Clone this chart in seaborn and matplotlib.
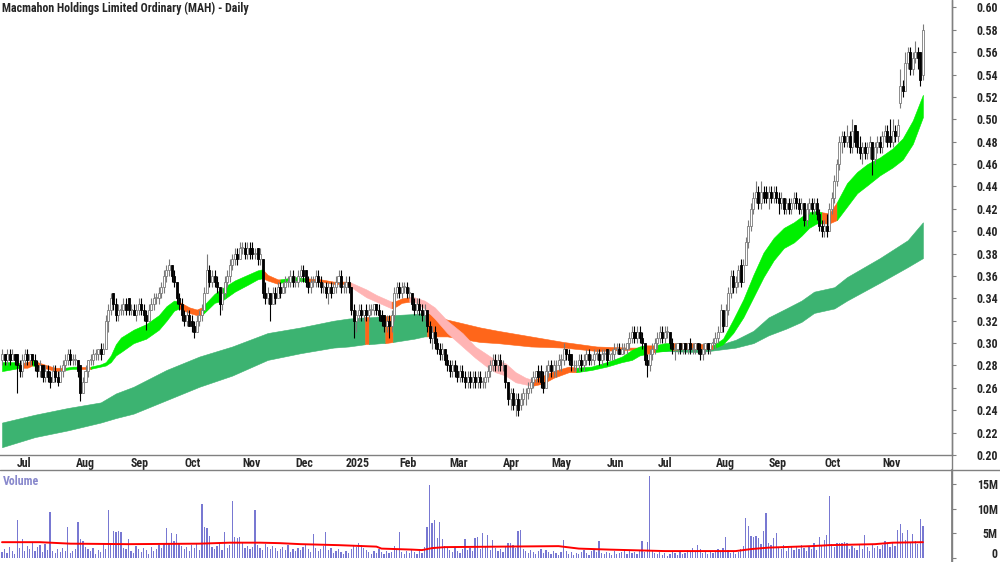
import numpy as np
import pandas as pd
import seaborn as sns
import matplotlib
matplotlib.use("Agg")
import matplotlib.pyplot as plt
from matplotlib.lines import Line2D
from matplotlib.transforms import ScaledTranslation

TITLE = "Macmahon Holdings Limited Ordinary (MAH) - Daily"

# first bar is Fri 21 Jun 2024, ASX trading days only
start_date = "2024-06-21"
asx_holidays = ["2024-12-25", "2024-12-26", "2025-01-01", "2025-01-27",
                "2025-04-18", "2025-04-21", "2025-04-25", "2025-06-09"]

# prices in tenths of a cent (285 -> $0.285), one line per month
opens = [
    285, 290, 285, 290, 285, 290,
    290, 280, 275, 285, 290, 285, 290, 285, 280, 275, 280, 270, 275, 270, 265, 275, 270, 265, 275, 280, 285, 290, 285,
    285, 285, 280, 255, 265, 275, 285, 285, 290, 290, 295, 290, 295, 320, 330, 345, 335, 325, 330, 330, 335, 340,
    330, 330, 325, 330, 335, 330, 325, 320, 330, 335, 340, 340, 345, 350, 360, 365, 370, 360, 355, 340, 335,
    325, 320, 325, 320, 315, 310, 320, 325, 330, 345, 365, 355, 360, 355, 350, 335, 345, 355, 360, 370, 375, 380, 375,
    385, 385, 380, 385, 385, 380, 385, 375, 375, 345, 340, 345, 335, 345, 340, 350, 345, 350, 355, 355, 360,
    355, 355, 360, 365, 365, 355, 350, 355, 355, 360, 355, 350, 350, 345, 350, 345, 350, 355, 360, 350,
    350, 355, 350, 330, 320, 325, 330, 325, 330, 325, 330, 330, 335, 330, 325, 325, 315, 320, 315, 325, 345,
    350, 345, 350, 350, 345, 345, 335, 330, 335, 330, 325, 330, 315, 305, 310, 300, 295, 290, 295, 285,
    280, 275, 280, 275, 270, 275, 270, 265, 270, 265, 270, 265, 270, 265, 265, 270, 275, 280, 285, 280, 285,
    280, 280, 265, 250, 255, 245, 250, 245, 250, 255, 255, 260, 265, 270, 275, 275, 265, 260, 275,
    280, 275, 280, 280, 285, 285, 295, 290, 290, 280, 280, 280, 285, 280, 285, 290, 285, 285, 290, 290, 285, 290,
    295, 285, 290, 290, 295, 295, 290, 295, 295, 300, 305, 310, 305, 310, 305, 300, 285, 280, 290, 295,
    300, 305, 310, 305, 310, 310, 300, 295, 295, 300, 295, 300, 295, 300, 295, 295, 300, 295, 290, 295, 300, 295, 300,
    300, 305, 310, 330, 315, 330, 345, 360, 350, 355, 370, 355, 370, 390, 405, 420, 430, 435, 425, 435, 435,
    430, 435, 430, 435, 430, 425, 430, 420, 425, 420, 425, 430, 425, 420, 425, 410, 420, 425, 420, 425, 415, 405,
    400, 405, 400, 420, 430, 445, 460, 480, 485, 480, 485, 475, 495, 490, 475, 470, 475, 470, 475, 480, 465, 475, 480,
    475, 485, 490, 485, 480, 490, 485, 515, 530, 525, 550, 560, 545, 555, 560, 560, 540,
]
highs = [
    295, 290, 295, 295, 295, 290,
    290, 285, 290, 295, 295, 290, 290, 290, 285, 285, 280, 280, 280, 275, 280, 280, 275, 280, 285, 290, 295, 295, 290,
    290, 285, 280, 270, 280, 285, 290, 295, 295, 295, 300, 300, 325, 335, 345, 345, 340, 335, 335, 340, 340, 340,
    335, 335, 335, 340, 340, 335, 330, 335, 340, 345, 345, 350, 355, 365, 370, 375, 370, 365, 355, 345, 340,
    330, 330, 330, 325, 320, 325, 330, 335, 350, 380, 370, 365, 365, 360, 350, 350, 360, 365, 375, 380, 385, 385, 390,
    390, 390, 390, 390, 390, 385, 385, 385, 375, 355, 350, 345, 350, 350, 355, 355, 355, 360, 360, 365, 365,
    360, 365, 370, 370, 365, 360, 360, 360, 365, 365, 360, 355, 355, 355, 355, 355, 360, 365, 365, 355,
    360, 360, 350, 335, 330, 335, 335, 330, 335, 335, 335, 335, 335, 335, 330, 325, 325, 325, 330, 350, 355,
    355, 355, 355, 355, 350, 345, 340, 340, 340, 335, 335, 330, 320, 315, 315, 305, 300, 300, 295, 290,
    285, 285, 285, 280, 280, 280, 275, 275, 275, 275, 275, 275, 275, 270, 275, 280, 285, 290, 290, 290, 290,
    285, 280, 265, 260, 260, 255, 255, 255, 260, 260, 265, 270, 275, 275, 280, 280, 275, 280, 285,
    285, 285, 285, 290, 290, 300, 295, 295, 290, 285, 285, 290, 290, 290, 295, 295, 290, 295, 295, 295, 295, 295,
    295, 295, 295, 300, 300, 300, 300, 300, 300, 310, 315, 315, 315, 315, 310, 300, 290, 295, 300, 305,
    310, 315, 315, 315, 315, 310, 305, 300, 300, 300, 300, 300, 300, 305, 300, 300, 300, 300, 300, 300, 300, 300, 305,
    310, 315, 335, 330, 335, 350, 365, 365, 360, 370, 375, 375, 395, 410, 425, 435, 445, 440, 445, 440, 440,
    440, 440, 440, 440, 435, 435, 430, 430, 430, 430, 435, 435, 430, 430, 425, 425, 430, 430, 430, 430, 420, 410,
    410, 415, 425, 435, 450, 465, 485, 490, 490, 495, 490, 500, 495, 490, 485, 480, 480, 480, 485, 480, 480, 485, 485,
    490, 495, 495, 500, 500, 495, 500, 545, 535, 560, 565, 565, 560, 570, 565, 560, 585,
]
lows = [
    280, 280, 280, 280, 285, 280,
    255, 270, 270, 280, 280, 280, 280, 275, 270, 270, 265, 265, 265, 260, 265, 265, 262, 265, 270, 275, 280, 280, 280,
    280, 270, 248, 255, 265, 270, 280, 280, 285, 285, 285, 290, 295, 310, 325, 330, 320, 320, 325, 325, 325, 325,
    325, 325, 320, 325, 325, 320, 312, 320, 330, 330, 335, 335, 340, 345, 355, 360, 355, 350, 335, 330, 320,
    315, 315, 315, 310, 305, 310, 315, 320, 330, 345, 350, 350, 350, 345, 325, 330, 340, 350, 355, 365, 370, 370, 375,
    380, 375, 375, 375, 375, 375, 370, 370, 340, 335, 335, 320, 335, 335, 340, 340, 345, 345, 350, 350, 350,
    350, 350, 355, 355, 350, 345, 345, 350, 350, 350, 345, 345, 340, 335, 340, 345, 345, 350, 345, 345,
    345, 345, 325, 305, 310, 320, 320, 320, 320, 320, 325, 325, 325, 320, 315, 310, 310, 305, 310, 320, 340,
    340, 340, 345, 340, 340, 330, 325, 325, 325, 320, 320, 310, 300, 295, 295, 290, 285, 285, 280, 275,
    270, 270, 270, 265, 265, 265, 260, 260, 260, 260, 260, 260, 260, 260, 260, 265, 270, 275, 275, 275, 275,
    275, 260, 245, 240, 240, 235, 235, 240, 245, 245, 250, 255, 260, 265, 265, 260, 255, 260, 270,
    270, 270, 270, 275, 275, 280, 285, 280, 275, 275, 275, 275, 275, 275, 280, 280, 280, 280, 285, 280, 280, 285,
    280, 285, 285, 285, 290, 290, 290, 290, 290, 295, 300, 300, 300, 300, 295, 280, 270, 275, 285, 290,
    295, 300, 300, 300, 305, 295, 290, 285, 290, 290, 290, 290, 290, 290, 290, 290, 290, 285, 285, 290, 290, 290, 295,
    295, 300, 310, 310, 315, 325, 340, 345, 345, 350, 350, 355, 370, 385, 400, 415, 425, 420, 420, 425, 425,
    420, 425, 425, 425, 415, 420, 415, 415, 415, 415, 420, 420, 415, 415, 405, 405, 415, 415, 415, 410, 400, 395,
    395, 395, 400, 415, 425, 440, 455, 470, 475, 475, 470, 470, 475, 470, 465, 460, 465, 465, 465, 450, 460, 470, 470,
    470, 480, 475, 475, 475, 480, 480, 510, 520, 525, 545, 540, 540, 550, 545, 530, 535,
]
closes = [
    290, 285, 290, 285, 290, 285,
    280, 275, 285, 290, 285, 290, 285, 280, 275, 280, 270, 275, 270, 265, 275, 270, 265, 275, 280, 285, 290, 285, 285,
    285, 275, 255, 265, 275, 285, 285, 290, 290, 295, 290, 295, 320, 330, 340, 335, 325, 330, 330, 335, 330, 330,
    330, 325, 330, 335, 330, 325, 320, 330, 335, 340, 340, 345, 350, 360, 365, 370, 360, 355, 340, 335, 325,
    320, 325, 315, 315, 310, 320, 325, 330, 345, 365, 355, 360, 355, 350, 335, 345, 355, 360, 370, 375, 380, 375, 385,
    385, 380, 385, 380, 380, 380, 375, 380, 345, 340, 345, 335, 345, 340, 350, 345, 350, 355, 355, 360, 355,
    355, 360, 365, 360, 355, 350, 355, 355, 360, 355, 350, 350, 345, 350, 345, 350, 355, 360, 350, 350,
    355, 350, 330, 320, 325, 330, 325, 330, 325, 330, 330, 335, 330, 325, 320, 315, 320, 315, 325, 345, 350,
    345, 350, 350, 345, 345, 335, 330, 335, 330, 325, 330, 315, 305, 310, 300, 295, 290, 295, 285, 280,
    275, 280, 275, 270, 275, 270, 265, 270, 265, 270, 265, 270, 265, 265, 270, 275, 280, 285, 280, 285, 280,
    280, 265, 250, 255, 245, 250, 240, 250, 255, 255, 260, 265, 270, 275, 270, 265, 260, 275, 280,
    275, 280, 280, 285, 285, 295, 290, 285, 280, 280, 280, 285, 280, 285, 290, 285, 285, 290, 290, 285, 290, 290,
    285, 290, 290, 295, 295, 290, 295, 295, 300, 305, 310, 305, 310, 305, 300, 285, 280, 290, 295, 300,
    305, 310, 305, 310, 310, 300, 295, 295, 300, 295, 300, 295, 300, 295, 295, 300, 295, 290, 295, 300, 295, 300, 300,
    305, 310, 330, 315, 330, 345, 360, 350, 355, 365, 355, 370, 390, 405, 420, 430, 435, 425, 435, 430, 430,
    435, 430, 435, 430, 425, 430, 420, 425, 420, 425, 430, 425, 420, 425, 410, 420, 425, 420, 425, 415, 405, 400,
    405, 400, 420, 430, 445, 460, 480, 485, 480, 485, 475, 490, 480, 475, 470, 475, 470, 475, 480, 465, 475, 480, 475,
    485, 490, 480, 480, 490, 485, 495, 530, 525, 550, 560, 545, 555, 560, 555, 535, 580,
]

# daily volume in units of 100k shares
volumes = [
    12, 18, 10, 22, 15, 9,
    77, 20, 38, 15, 24, 18, 30, 14, 22, 26, 12, 28, 16, 93, 14, 10, 18, 12, 20, 15, 63, 11, 14,
    18, 73, 38, 35, 22, 18, 14, 20, 9, 16, 12, 28, 19, 97, 30, 55, 52, 55, 53, 20, 18, 38,
    15, 10, 24, 18, 12, 20, 16, 9, 22, 14, 18, 26, 20, 30, 61, 28, 50, 35, 48, 30, 24,
    18, 22, 14, 26, 20, 28, 16, 109, 62, 60, 45, 22, 18, 24, 30, 16, 53, 20, 26, 115, 42, 40, 42,
    30, 20, 24, 18, 22, 97, 26, 20, 16, 28, 22, 18, 24, 20, 14, 18, 22, 16, 26, 12, 18,
    14, 20, 16, 22, 26, 18, 12, 49, 20, 14, 18, 24, 53, 16, 20, 10, 14, 18, 12, 9,
    14, 10, 18, 24, 22, 30, 26, 20, 16, 12, 8, 14, 10, 18, 12, 8, 14, 10, 12, 24, 16,
    53, 12, 8, 14, 10, 16, 12, 8, 14, 10, 22, 63, 148, 71, 77, 40, 73, 38, 24, 20,
    16, 12, 20, 14, 10, 18, 38, 16, 20, 14, 40, 42, 18, 51, 22, 47, 16, 36, 20, 14, 18,
    12, 22, 31, 31, 26, 20, 55, 57, 18, 14, 10, 16, 12, 8, 14, 18, 10, 16, 12,
    8, 14, 10, 6, 12, 36, 14, 8, 12, 6, 10, 8, 12, 16, 10, 6, 14, 18, 12, 35, 10, 8,
    12, 10, 6, 14, 8, 10, 12, 16, 8, 14, 10, 12, 8, 14, 34, 12, 32, 165, 14, 10,
    8, 12, 6, 10, 4, 8, 14, 10, 6, 12, 8, 10, 16, 12, 20, 14, 26, 18, 10, 14, 8, 12, 10,
    14, 18, 12, 20, 42, 16, 10, 14, 8, 12, 18, 24, 81, 65, 45, 42, 44, 40, 28, 55, 91,
    30, 26, 40, 50, 22, 18, 26, 14, 20, 24, 16, 22, 18, 26, 20, 14, 24, 18, 31, 16, 42, 24,
    36, 46, 125, 28, 22, 31, 30, 31, 32, 30, 18, 24, 20, 16, 26, 18, 46, 22, 14, 26, 20, 24, 18,
    26, 34, 28, 22, 30, 24, 56, 69, 51, 36, 56, 30, 48, 34, 28, 79, 65,
]

# short-term moving average ribbon (bar index, top, bottom)
short_idx = [0, 5, 7, 10, 12, 14, 18, 21, 25, 28, 31, 35, 39, 41, 43, 45, 47, 52, 57, 62,
             65, 68, 70, 74, 77, 79, 84, 87, 92, 97, 101, 103, 105, 109, 110, 116, 120, 126, 131, 136,
             138, 144, 148, 152, 154, 156, 158, 161, 163, 167, 171, 176, 182, 187, 191, 195, 199, 203, 207, 210,
             214, 218, 224, 227, 233, 239, 245, 249, 252, 254, 258, 262, 265, 272, 278, 281, 285, 289, 293, 297,
             301, 305, 309, 313, 316, 319, 322, 324, 327, 330, 334, 338, 342, 347, 352, 356, 360, 364]
short_top = [.283, .283, .282, .283, .285, .283, .280, .278, .278, .279, .279, .279, .281, .283, .289, .299, .305, .312, .317, .325,
             .333, .338, .337, .332, .330, .332, .344, .349, .356, .361, .365, .366, .361, .357, .357, .359, .358, .357, .355, .355,
             .354, .348, .343, .339, .337, .338, .340, .341, .341, .338, .332, .320, .309, .297, .291, .285, .282, .274, .269, .267,
             .271, .275, .279, .278, .279, .283, .288, .294, .297, .298, .298, .300, .300, .300, .299, .298, .304, .321, .339, .361,
             .381, .394, .403, .408, .413, .417, .418, .417, .416, .426, .443, .453, .460, .466, .474, .483, .499, .522]
short_bot = [.275, .277, .278, .278, .280, .279, .277, .275, .276, .277, .277, .277, .279, .280, .283, .289, .292, .300, .304, .312,
             .320, .329, .331, .327, .325, .325, .336, .338, .346, .352, .357, .358, .356, .353, .354, .356, .355, .355, .353, .353,
             .350, .341, .337, .333, .331, .333, .336, .337, .337, .331, .322, .309, .297, .287, .280, .274, .271, .265, .263, .262,
             .264, .269, .274, .274, .276, .279, .283, .285, .289, .290, .292, .293, .294, .295, .295, .295, .299, .309, .323, .341,
             .359, .374, .385, .390, .396, .403, .407, .407, .407, .410, .422, .434, .441, .450, .457, .464, .478, .502]
# colour of the ribbon from each bar index onward: g rising, o mixed, p falling
short_runs = [(0, "g"), (7, "o"), (12, "g"), (14, "o"), (25, "g"), (31, "o"), (35, "g"), (70, "o"),
              (79, "g"), (103, "o"), (110, "g"), (120, "o"), (138, "p"), (154, "o"), (161, "p"), (210, "o"),
              (227, "g"), (254, "o"), (258, "g"), (265, "o"), (281, "g"), (324, "o"), (330, "g")]

# long-term ribbon
long_idx = [0, 13, 26, 39, 45, 52, 65, 78, 91, 105, 118, 131, 137, 143.5, 145, 150, 151.5, 154.5, 163, 167,
            168, 176, 189, 196, 209, 222, 235, 248, 252, 261, 276, 283, 290, 297, 303, 310, 316, 321, 329, 334,
            347, 358, 364]
long_top = [.229, .236, .242, .247, .255, .261, .276, .288, .297, .309, .314, .320, .322, .323, .323, .324, .324, .325, .326, .327,
            .327, .321, .314, .311, .306, .301, .297, .296, .296, .296, .296, .298, .303, .311, .323, .331, .338, .346, .350, .359,
            .376, .392, .408]
long_bot = [.207, .216, .222, .229, .233, .237, .249, .261, .271, .285, .291, .296, .297, .299, .299, .300, .300, .301, .304, .306,
            .306, .306, .301, .300, .297, .296, .293, .294, .294, .293, .292, .294, .296, .300, .307, .313, .319, .327, .331, .338,
            .354, .368, .376]
long_runs = [(0, "G"), (143.5, "o"), (145, "G"), (151.5, "o"), (154.5, "G"), (168, "o"), (252, "G")]

# volume moving average (bar index, millions)
vma_idx = [0, 15, 27, 50, 78, 90, 102, 110, 118, 133, 148, 150, 162, 166, 170, 175, 197, 220, 228, 240,
           262, 290, 296, 303, 320, 327, 345, 352, 364]
vma_val = [3.2, 3.2, 2.9, 2.8, 2.9, 3.1, 3.1, 3.0, 2.8, 2.6, 2.3, 1.9, 1.7, 1.6, 2.0, 2.2, 2.3, 2.4, 1.9, 1.7,
           1.4, 1.4, 1.8, 2.1, 2.4, 2.6, 2.8, 3.1, 3.2]

band_colours = {"g": "#00f000", "o": "#ff661a", "p": "#ffb4b4", "G": "#3cb371"}

n = len(closes)
dates = pd.bdate_range(start_date, periods=n, freq="C", holidays=asx_holidays)
df = pd.DataFrame({
    "date": dates,
    "x": np.arange(n),
    "open": np.array(opens) / 1000,
    "high": np.array(highs) / 1000,
    "low": np.array(lows) / 1000,
    "close": np.array(closes) / 1000,
    "volume": np.array(volumes) * 1e5,
})
df["up"] = df["close"] >= df["open"]

sns.set_theme(style="white")
plt.rcParams["font.family"] = ["Roboto Condensed", "Liberation Sans", "DejaVu Sans"]
plt.rcParams["font.weight"] = "bold"
FS = 8.6

W, H = 1000, 562
fig = plt.figure(figsize=(W / 100, H / 100), dpi=100)
ax = fig.add_axes([0, (H - 455) / H, 952 / W, 455 / H])
axv = fig.add_axes([0, 0, 952 / W, (H - 470) / H])


def fill_ribbon(axis, idx, top, bot, runs, z):
    idx = np.asarray(idx, float)
    top = np.asarray(top)
    bot = np.asarray(bot)
    ends = [r[0] for r in runs[1:]] + [idx[-1]]
    for (s, c), e in zip(runs, ends):
        m = (idx >= s) & (idx <= e)
        col = band_colours[c]
        axis.fill_between(idx[m], top[m], bot[m], facecolor=col, edgecolor=col,
                          linewidth=0.4, zorder=z)


fill_ribbon(ax, long_idx, long_top, long_bot, long_runs, 1)
fill_ribbon(ax, short_idx, short_top, short_bot, short_runs, 2)

# candles
up = df[df["up"]]
dn = df[~df["up"]]
for part, edge, face in [(up, "#7a7a7a", "white"), (dn, "black", "black")]:
    ax.vlines(part["x"], part["low"], part["high"], color=edge, linewidth=0.8, zorder=3)
    body = (part["close"] - part["open"]).abs().clip(lower=0.0008)
    ax.bar(part["x"], body, bottom=part[["open", "close"]].min(axis=1), width=0.8,
           color=face, edgecolor=edge, linewidth=0.6, zorder=4)

ax.set_xlim(-0.8, 375.5)
ax.set_ylim(0.20, 0.6067)

# month ticks
new_month = df["date"].dt.month.diff().fillna(0) != 0
ticks = df.loc[new_month, "x"].tolist()
tick_labels = ["2025" if d.month == 1 else d.strftime("%b") for d in df.loc[new_month, "date"]]
ax.set_xticks(ticks)
ax.set_xticklabels(tick_labels, ha="left", fontsize=FS, fontweight="bold")
shift = ScaledTranslation(1.5 / 72, 0, fig.dpi_scale_trans)
for lbl in ax.get_xticklabels():
    lbl.set_transform(lbl.get_transform() + shift)
ax.tick_params(axis="x", direction="in", length=4, width=0.8, color="#808080", pad=1.5)

yt = np.round(np.arange(0.20, 0.601, 0.02), 2)
ax.yaxis.tick_right()
ax.set_yticks(yt)
ax.set_yticklabels([f"{v:.2f}" for v in yt], ha="right", fontsize=FS, fontweight="bold")
ax.tick_params(axis="y", direction="out", length=3, width=0.8, color="#808080", pad=30)

for side in ["left", "top"]:
    ax.spines[side].set_visible(False)
for side in ["right", "bottom"]:
    ax.spines[side].set_color("#808080")
    ax.spines[side].set_linewidth(1)

# volume panel
axv.bar(df["x"], df["volume"], width=0.5, color="#7878d2", linewidth=0, zorder=2)
sns.lineplot(x=vma_idx, y=np.array(vma_val) * 1e6, ax=axv, color="#ff0000", linewidth=1.4, zorder=3)
axv.set_xlim(-0.8, 375.5)
axv.set_ylim(-0.81e6, 17.8e6)
axv.set_xticks([])
axv.yaxis.tick_right()
vt = [0, 5e6, 10e6, 15e6]
axv.set_yticks(vt)
axv.set_yticklabels(["0", "5M", "10M", "15M"], ha="right", fontsize=FS, fontweight="bold")
axv.get_yticklabels()[0].set_va("baseline")
axv.tick_params(axis="y", direction="out", length=3, width=0.8, color="#808080", pad=30)
for side in ["left", "top", "bottom"]:
    axv.spines[side].set_visible(False)
axv.spines["right"].set_color("#808080")
axv.text(0.003, 0.95, "Volume", transform=axv.transAxes, ha="left", va="top",
         fontsize=FS, fontweight="bold", color="#8888cc")

# frame lines running across the whole figure
fig.add_artist(Line2D([0, 1], [(H - 470) / H] * 2, transform=fig.transFigure, color="#808080", linewidth=1))
fig.add_artist(Line2D([952 / W] * 2, [0, 1], transform=fig.transFigure, color="#808080", linewidth=1))

fig.text(0.002, 1 - 2 / H, TITLE, ha="left", va="top", fontsize=FS, fontweight="bold")

fig.savefig("out.png", dpi=100)
